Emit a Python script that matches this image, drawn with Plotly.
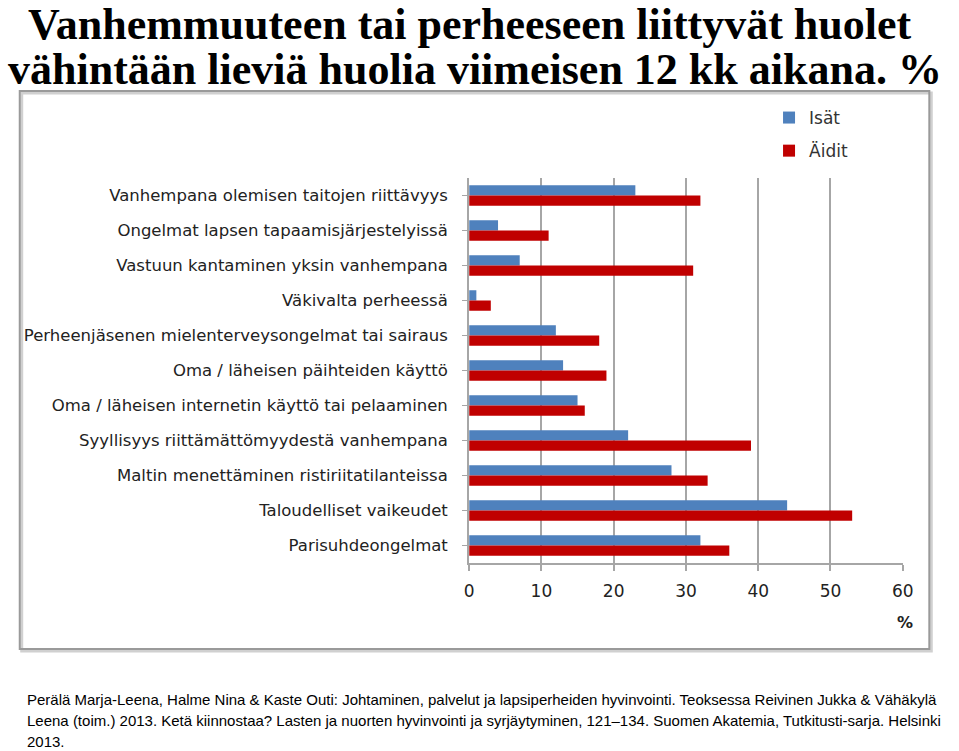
import plotly.graph_objects as go

categories = [
    "Vanhempana olemisen taitojen riittävyys",
    "Ongelmat lapsen tapaamisjärjestelyissä",
    "Vastuun kantaminen yksin vanhempana",
    "Väkivalta perheessä",
    "Perheenjäsenen mielenterveysongelmat tai sairaus",
    "Oma / läheisen päihteiden käyttö",
    "Oma / läheisen internetin käyttö tai pelaaminen",
    "Syyllisyys riittämättömyydestä vanhempana",
    "Maltin menettäminen ristiriitatilanteissa",
    "Taloudelliset vaikeudet",
    "Parisuhdeongelmat",
]
isat = [23, 4, 7, 1, 12, 13, 15, 22, 28, 44, 32]
aidit = [32, 11, 31, 3, 18, 19, 16, 39, 33, 53, 36]
x_ticks = [0, 10, 20, 30, 40, 50, 60]

W, H = 959, 751
def px(x):
    return x / W
def py(y):
    return 1 - y / H

fig = go.Figure()
fig.add_trace(go.Bar(y=categories, x=isat, orientation="h", name="Isät",
                     legendgroup="a",
                     marker=dict(color="#4F81BD", line=dict(width=0))))
fig.add_trace(go.Bar(y=categories, x=aidit, orientation="h", name="Äidit",
                     legendgroup="b",
                     marker=dict(color="#C00000", line=dict(width=0))))

fig.update_layout(
    width=W, height=H,
    margin=dict(l=0, r=0, t=0, b=0),
    paper_bgcolor="white", plot_bgcolor="white",
    barmode="group", bargap=0.42, bargroupgap=0,
    showlegend=True,
    legend=dict(x=px(777), y=py(100), xanchor="left", yanchor="top",
                font=dict(family="DejaVu Sans", size=17, color="#333333"),
                itemwidth=30, tracegroupgap=8, bgcolor="rgba(0,0,0,0)",
                traceorder="grouped"),
    xaxis=dict(domain=[px(472), px(913)], range=[0, 60], tickvals=x_ticks,
               showgrid=True, gridcolor="#A6A6A6", gridwidth=2,
               showline=True, linecolor="#A6A6A6", linewidth=2,
               ticks="outside", ticklen=6, tickcolor="#A6A6A6", tickwidth=2,
               ticklabelstandoff=6,
               tickfont=dict(family="DejaVu Sans", size=17, color="#222222"),
               zeroline=False, fixedrange=True),
    yaxis=dict(domain=[py(563), py(178)], autorange="reversed",
               showline=True, linecolor="#A6A6A6", linewidth=2,
               ticks="outside", ticklen=5, tickcolor="#A6A6A6",
               ticklabelstandoff=11,
               tickfont=dict(family="DejaVu Sans", size=16.5, color="#222222"),
               showgrid=False, fixedrange=True),
)

# chart frame
fig.add_shape(type="rect", xref="paper", yref="paper",
              x0=px(17), x1=px(942), y0=py(651), y1=py(93),
              line=dict(color="#D0D0D0", width=3), layer="below")
fig.add_shape(type="rect", xref="paper", yref="paper",
              x0=px(15), x1=px(940), y0=py(649), y1=py(91),
              line=dict(color="#9A9A9A", width=2), layer="below")

# % label
fig.add_annotation(text="<b>%</b>", x=px(915), y=py(622), xref="paper", yref="paper",
                   xanchor="center", yanchor="middle",
                   showarrow=False, font=dict(family="DejaVu Sans", size=16, color="#222222"))

# title
fig.add_annotation(text="<b>Vanhemmuuteen tai perheeseen liittyvät huolet</b>",
                   x=px(473), y=py(25), xref="paper", yref="paper", showarrow=False,
                   xanchor="center", yanchor="middle",
                   font=dict(family="Liberation Serif", size=44, color="black"))
fig.add_annotation(text="<b>vähintään lieviä huolia viimeisen 12 kk aikana. %</b>",
                   x=px(1), y=py(69), xref="paper", yref="paper", showarrow=False,
                   xanchor="left", yanchor="middle",
                   font=dict(family="Liberation Serif", size=44, color="black"))

# footer
footer_lines = [
    "Perälä Marja-Leena, Halme Nina & Kaste Outi: Johtaminen, palvelut ja lapsiperheiden hyvinvointi. Teoksessa Reivinen Jukka & Vähäkylä",
    "Leena (toim.) 2013. Ketä kiinnostaa? Lasten ja nuorten hyvinvointi ja syrjäytyminen, 121–134. Suomen Akatemia, Tutkitusti-sarja. Helsinki",
    "2013.",
]
for i, line in enumerate(footer_lines):
    fig.add_annotation(text=line, x=px(20), y=py(699 + i * 21), xref="paper", yref="paper",
                       xanchor="left", yanchor="middle", showarrow=False,
                       font=dict(family="Liberation Sans", size=15, color="black"))

fig.write_html("out.html", post_script="document.body.style.margin='0';",
               config={"displayModeBar": False})
